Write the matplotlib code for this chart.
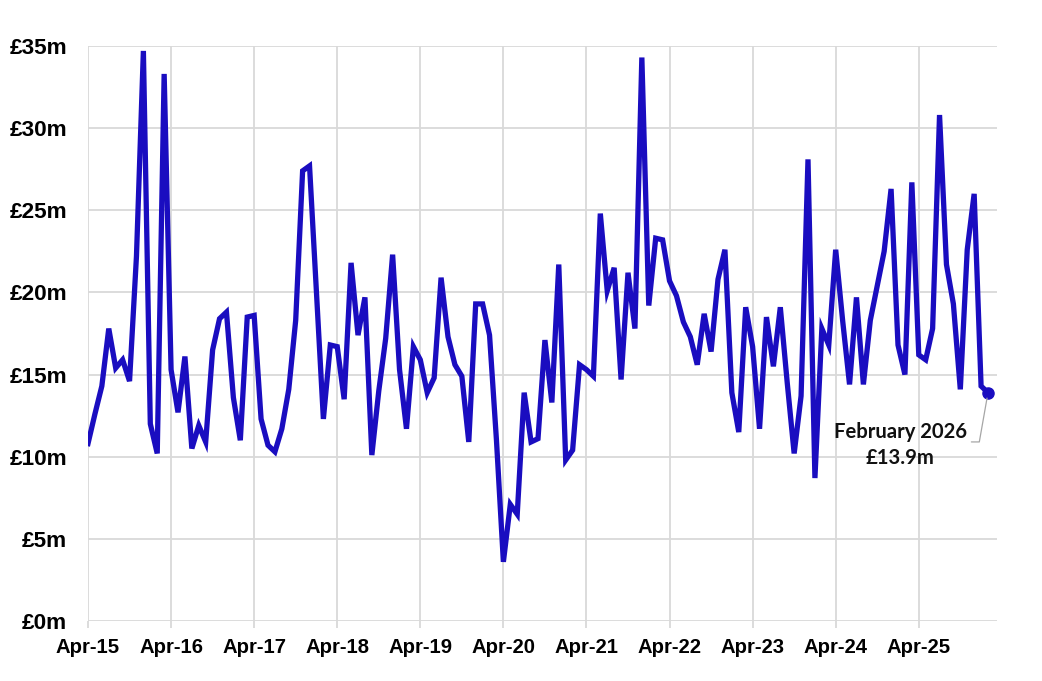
import matplotlib
matplotlib.use("Agg")
import matplotlib.pyplot as plt
import numpy as np

# Monthly values (£m), Apr-2015 .. Feb-2026
values = [
    10.8, 12.6, 14.3, 17.8, 15.4, 15.9, 14.6, 22.2, 34.7, 12.0, 10.2, 33.3,   # Apr15-Mar16
    15.3, 12.7, 16.1, 10.5, 11.9, 10.9, 16.5, 18.4, 18.8, 13.6, 11.0, 18.5,   # Apr16-Mar17
    18.6, 12.3, 10.7, 10.3, 11.7, 14.1, 18.3, 27.4, 27.7, 20.0, 12.3, 16.8,   # Apr17-Mar18
    16.7, 13.5, 21.8, 17.4, 19.7, 10.1, 14.0, 17.2, 22.3, 15.3, 11.7, 16.7,   # Apr18-Mar19
    15.9, 13.9, 14.8, 20.9, 17.3, 15.6, 14.9, 10.9, 19.3, 19.3, 17.4, 11.0,   # Apr19-Mar20
    3.6, 7.1, 6.5, 13.9, 10.9, 11.1, 17.1, 13.3, 21.7, 9.8, 10.4, 15.6,       # Apr20-Mar21
    15.3, 14.9, 24.8, 20.1, 21.5, 14.7, 21.2, 17.8, 34.3, 19.2, 23.3, 23.2,   # Apr21-Mar22
    20.7, 19.8, 18.2, 17.3, 15.6, 18.7, 16.4, 20.8, 22.6, 13.9, 11.5, 19.1,   # Apr22-Mar23
    16.7, 11.7, 18.5, 15.5, 19.1, 14.5, 10.2, 13.7, 28.1, 8.7, 17.8, 16.8,    # Apr23-Mar24
    22.6, 18.3, 14.4, 19.7, 14.4, 18.3, 20.4, 22.5, 26.3, 16.8, 15.0, 26.7,   # Apr24-Mar25
    16.2, 15.9, 17.8, 30.8, 21.7, 19.3, 14.1, 22.6, 26.0, 14.3, 13.9,         # Apr25-Feb26
]
x_labels = ["Apr-15", "Apr-16", "Apr-17", "Apr-18", "Apr-19", "Apr-20",
            "Apr-21", "Apr-22", "Apr-23", "Apr-24", "Apr-25"]
y_ticks = [0, 5, 10, 15, 20, 25, 30, 35]
y_labels = ["£0m", "£5m", "£10m", "£15m", "£20m", "£25m", "£30m", "£35m"]
annot_text = "February 2026\n£13.9m"

line_color = "#1A0DC0"
grid_color = "#D9D9D9"

fig = plt.figure(figsize=(10.42, 6.81), dpi=100)
ax = fig.add_axes([88 / 1042, 1 - 621 / 681, (997 - 88) / 1042, (621 - 46) / 681])

x = np.arange(len(values))
ax.plot(x, values, color=line_color, lw=3.8, solid_joinstyle="miter", zorder=3)
ax.plot(x[-1], values[-1], "o", color=line_color, ms=8, zorder=4)

ax.set_xlim(0, 131.3)
ax.set_ylim(0, 35)

xt = np.arange(0, len(values), 12)
ax.set_xticks(xt)
ax.set_xticklabels(x_labels)
ax.set_yticks(y_ticks)
ax.set_yticklabels(y_labels)

for lab in ax.get_xticklabels():
    lab.set_fontfamily("Liberation Sans")
    lab.set_fontweight("bold")
    lab.set_fontsize(14.6)
for lab in ax.get_yticklabels():
    lab.set_fontfamily("Liberation Sans")
    lab.set_fontweight("bold")
    lab.set_fontsize(16.2)

ax.grid(True, color=grid_color, lw=1.3, zorder=0)
ax.tick_params(axis="x", length=5, color=grid_color, width=1.3, pad=7)
ax.tick_params(axis="y", length=0, pad=15)
for s in ["top", "right", "left", "bottom"]:
    ax.spines[s].set_visible(False)

ax.annotate(annot_text, xy=(x[-1], values[-1]), xytext=(117.3, 10.7),
            ha="center", va="center", fontsize=14.6, fontweight="bold",
            fontfamily="Lato", linespacing=1.4, color="#111111",
            zorder=5)
# leader line from the data label to the last point
ax.annotate("", xy=(x[-1], values[-1]), xytext=(127.6, 10.9),
            arrowprops=dict(arrowstyle="-", color="#A6A6A6", lw=0.9,
                            connectionstyle="angle,angleA=0,angleB=80,rad=0",
                            shrinkA=0, shrinkB=4),
            zorder=5)

fig.savefig("out.png", dpi=100)
